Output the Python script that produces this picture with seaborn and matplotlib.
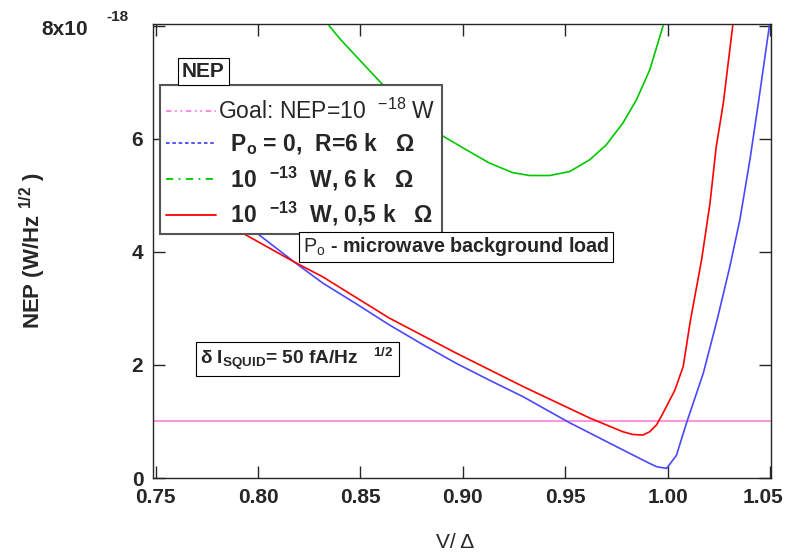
import matplotlib
matplotlib.use("Agg")
import matplotlib.pyplot as plt
import matplotlib.transforms as mtransforms
from matplotlib.lines import Line2D
import seaborn as sns

# NEP vs bias
# x = V/Delta, y = NEP in units of 1e-18 W/Hz^1/2
V_P0 = [0.7525, 0.775, 0.8005, 0.8177, 0.8315, 0.848, 0.864, 0.880, 0.8967,
        0.913, 0.9293, 0.952, 0.965, 0.978, 0.990, 0.9946, 0.9995, 1.0043,
        1.0092, 1.0174, 1.0242, 1.0304, 1.0353, 1.0402, 1.0443, 1.0497]
NEP_P0 = [5.64, 5.00, 4.30, 3.82, 3.45, 3.08, 2.71, 2.37, 2.03,
          1.73, 1.44, 0.98, 0.74, 0.50, 0.28, 0.20, 0.17, 0.40,
          0.97, 1.85, 2.80, 3.74, 4.57, 5.63, 6.63, 8.00]

V_6K = [0.8347, 0.8404, 0.860, 0.875, 0.8902, 0.900, 0.913, 0.9244, 0.9326,
        0.9424, 0.9522, 0.962, 0.970, 0.9782, 0.9848, 0.9913, 0.9978]
NEP_6K = [8.00, 7.75, 6.99, 6.47, 6.05, 5.84, 5.57, 5.40, 5.35,
          5.35, 5.42, 5.63, 5.89, 6.28, 6.69, 7.22, 8.00]

V_05K = [0.7525, 0.775, 0.794, 0.8177, 0.8315, 0.864, 0.8967, 0.9293, 0.962,
         0.978, 0.983, 0.988, 0.9913, 0.9946, 0.9978, 1.0035, 1.0076, 1.0112,
         1.0166, 1.0207, 1.0237, 1.0272, 1.0318]
NEP_05K = [5.13, 4.68, 4.30, 3.82, 3.56, 2.83, 2.21, 1.62, 1.06,
           0.82, 0.77, 0.76, 0.82, 0.94, 1.15, 1.55, 1.97, 2.80,
           3.86, 4.86, 5.85, 6.63, 8.00]

GOAL_NEP = 1.0

XTICKS = [0.75, 0.80, 0.85, 0.90, 0.95, 1.00, 1.05]
YTICKS = [0, 2, 4, 6, 8]
YTICK_LABELS = ["0", "2", "4", "6", ""]

LABELS = ["Goal: NEP=10  $^{-18}$ W",
          "  P$_{o}$ = 0,  R=6 k   Ω",
          "  10  $^{-13}$  W, 6 k   Ω",
          "  10  $^{-13}$  W, 0,5 k   Ω"]

PINK, BLUE, GREEN, RED = "#ff80e0", "#4848ff", "#00c800", "#ff0000"

sns.set_style("ticks")
plt.rcParams["font.family"] = ["Liberation Sans", "DejaVu Sans"]
plt.rcParams.update({
    "mathtext.fontset": "custom",
    "mathtext.rm": "Liberation Sans",
    "mathtext.bf": "Liberation Sans:bold",
    "mathtext.it": "Liberation Sans:italic",
    "mathtext.default": "regular",
    "axes.linewidth": 1.0,
})

fig = plt.figure(figsize=(7.87, 5.59), dpi=100)
ax = fig.add_axes([0.1944, 0.1449, 0.7853, 0.8122])

ax.axhline(GOAL_NEP, color=PINK, lw=1.2, zorder=2)
sns.lineplot(x=V_P0, y=NEP_P0, color=BLUE, lw=1.2, ax=ax)
sns.lineplot(x=V_6K, y=NEP_6K, color=GREEN, lw=1.2, ax=ax)
sns.lineplot(x=V_05K, y=NEP_05K, color=RED, lw=1.2, ax=ax)

ax.set_xlim(0.7487, 1.0505)
ax.set_ylim(0, 8.03)
ax.set_xticks(XTICKS)
ax.set_xticklabels([f"{t:.2f}" for t in XTICKS], fontweight="bold")
ax.set_yticks(YTICKS)
ax.set_yticklabels(YTICK_LABELS, fontweight="bold")
ax.tick_params(direction="in", length=8.6, width=1, top=True, right=True,
               labelsize=15, pad=7)
ax.set_xlabel("")
ax.set_ylabel("")
# last x label sits on the figure edge, nudge it in a little
last = ax.get_xticklabels()[-1]
last.set_transform(last.get_transform() + mtransforms.ScaledTranslation(
    -5 / 72, 0, fig.dpi_scale_trans))

# axis titles and the exponent on the top tick
fig.text(33 / 787, 1 - 251 / 559, "NEP (W/Hz $^{1/2}$ )", rotation=90,
         ha="center", va="center", fontsize=16, fontweight="bold")
fig.text(455 / 787, 1 - 543 / 559, "V/ Δ", ha="center", va="center",
         fontsize=15)
fig.text(41 / 787, 1 - 35 / 559, "8x10", ha="left", va="baseline",
         fontsize=15, fontweight="bold")
fig.text(106 / 787, 1 - 21 / 559, "-18", ha="left", va="baseline",
         fontsize=11, fontweight="bold")

handles = [Line2D([], [], color=PINK, lw=1.3, ls=(0, (3, 2, 1, 2, 1, 2))),
           Line2D([], [], color=BLUE, lw=1.3, ls=(0, (2, 1.5))),
           Line2D([], [], color=GREEN, lw=1.3, ls=(0, (4, 3, 1, 3))),
           Line2D([], [], color=RED, lw=1.3)]
# tiny blank title only pads the top of the box, the "NEP" tag is drawn below
leg = ax.legend(handles, LABELS, loc="upper left",
                bbox_to_anchor=(0.0113, 0.8656), borderaxespad=0,
                title=" ", title_fontsize=1.5,
                fontsize=16.5, frameon=True, fancybox=False,
                edgecolor="#555555", framealpha=1, handlelength=2.2,
                handletextpad=0.1, labelspacing=0.32, borderpad=0.25)
leg.get_frame().set_linewidth(1.5)
leg.set_zorder(5)
for t in leg.get_texts()[1:]:
    t.set_fontweight("bold")

box = dict(boxstyle="square,pad=0.2", fc="white", ec="black", lw=0.8)
ax.text(0.0817, 0.8954, "NEP", transform=ax.transAxes, ha="center",
        va="center", fontsize=15, fontweight="bold", bbox=box, zorder=6)
ax.text(0.490, 0.5088, r"$\mathrm{P_o}$ - microwave background load",
        transform=ax.transAxes, ha="center", va="center", fontsize=14.2,
        fontweight="bold", bbox=box, zorder=6)
ax.text(0.2338, 0.263, "δ I$_{SQUID}$= 50 fA/Hz   $^{1/2}$ ",
        transform=ax.transAxes, ha="center", va="center", fontsize=13.8,
        fontweight="bold", bbox=box, zorder=6)

fig.savefig("out.png", dpi=100)
